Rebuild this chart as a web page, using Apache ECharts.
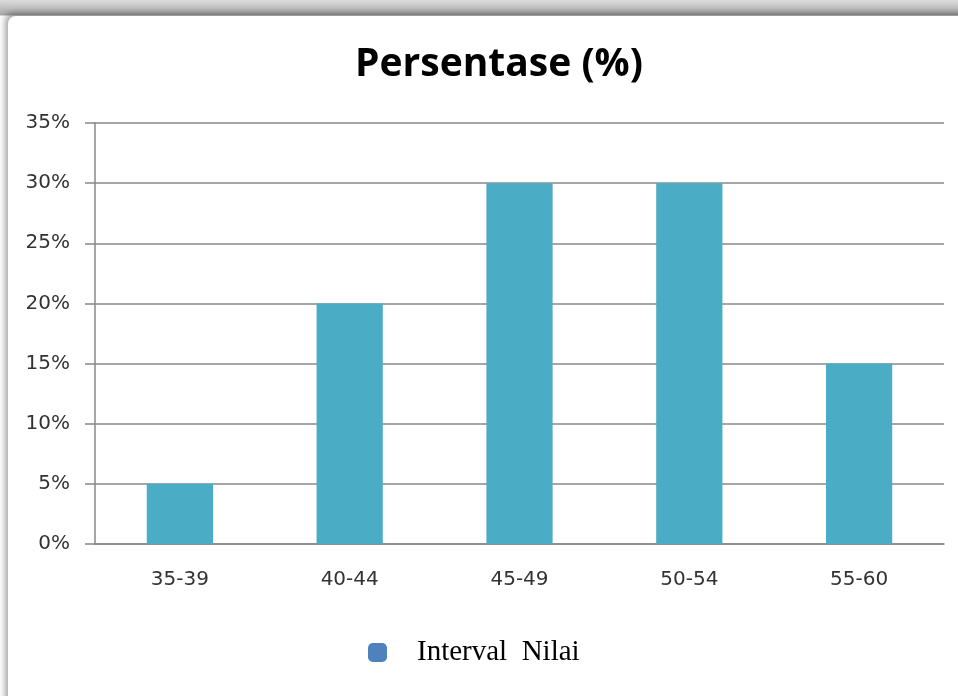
<!DOCTYPE html>
<html>
<head>
<meta charset="utf-8">
<script src="https://cdn.jsdelivr.net/npm/echarts@6/dist/echarts.min.js"></script>
<style>
  html, body { margin: 0; padding: 0; width: 958px; height: 696px; overflow: hidden; background: #c8c8c8; }
  #bg { position: absolute; left: 0; top: 0; width: 958px; height: 696px;
        background: linear-gradient(#dcdcdc, #a8a8a8 15px, #ffffff 16px); }
  #frame { position: absolute; left: 8px; top: 16px; width: 980px; height: 720px; background: #fff;
           border-top-left-radius: 8px; box-shadow: -3px -3px 6px rgba(0,0,0,0.35); }
  #chart { position: absolute; left: 0; top: 0; width: 958px; height: 696px; }
</style>
</head>
<body>
<div id="bg"></div>
<div id="frame"></div>
<div id="chart"></div>
<script>
const titleText = 'Persentase (%)';
const categories = ['35-39', '40-44', '45-49', '50-54', '55-60'];
const seriesName = 'Interval  Nilai';
const values = [5, 20, 30, 30, 15];
const yTicks = { min: 0, max: 35, interval: 5 };

const chart = echarts.init(document.getElementById('chart'), null, { renderer: 'canvas' });
chart.setOption({
  backgroundColor: 'transparent',
  animation: false,
  title: {
    text: titleText,
    left: 494, top: 40, textAlign: 'center',
    textStyle: { fontFamily: 'Open Sans', fontWeight: 'bold', fontSize: 39, color: '#000' }
  },
  legend: {
    data: [{ name: seriesName, itemStyle: { color: '#4f81bd' } }],
    left: 363, top: 633,
    icon: 'roundRect', itemWidth: 19, itemHeight: 19,
    textStyle: { fontFamily: 'Liberation Serif', fontSize: 29, color: '#000', padding: [0, 0, 0, 25] }
  },
  grid: { left: 95, right: 14, top: 123, bottom: 152, containLabel: false },
  xAxis: {
    type: 'category',
    data: categories,
    axisLine: { lineStyle: { color: '#888', width: 1.5 } },
    axisTick: { length: 5, lineStyle: { color: '#888', width: 1.5 } },
    axisLabel: { margin: 26, fontFamily: 'DejaVu Sans', fontSize: 20, color: '#333' }
  },
  yAxis: {
    type: 'value',
    min: yTicks.min, max: yTicks.max, interval: yTicks.interval,
    axisLine: { show: true, lineStyle: { color: '#888', width: 1.5 } },
    axisTick: { show: true, inside: false, length: 10, lineStyle: { color: '#888', width: 1.5 } },
    splitLine: { lineStyle: { color: '#888', width: 1.5 } },
    axisLabel: { margin: 25, formatter: '{value}%', fontFamily: 'DejaVu Sans', fontSize: 20, color: '#333' }
  },
  series: [{
    name: seriesName,
    type: 'bar',
    data: values,
    barWidth: '39%',
    itemStyle: { color: '#4bacc6' }
  }]
});
</script>
</body>
</html>
